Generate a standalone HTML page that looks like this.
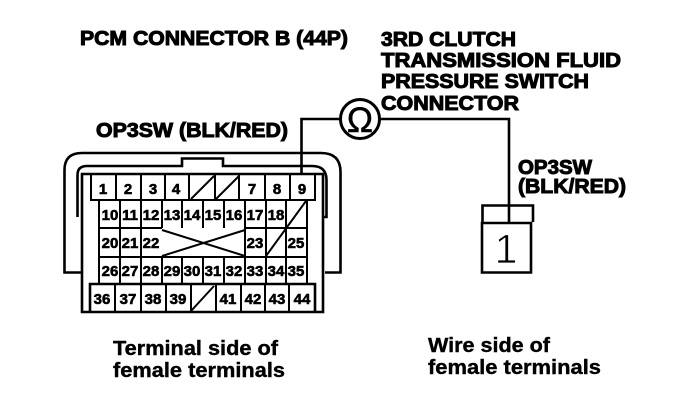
<!DOCTYPE html>
<html><head><meta charset="utf-8"><style>
html,body{margin:0;padding:0;background:#fff}
svg{display:block}
text{font-family:"Liberation Sans",sans-serif;fill:#000}
.h{font-size:20px;font-weight:bold;stroke:#000;stroke-width:1px}
.b{font-size:20px;font-weight:bold;stroke:#000;stroke-width:.4px}
.n text{font-size:15px;font-weight:bold;text-anchor:middle;stroke:#000;stroke-width:.6px}
.l{fill:none;stroke:#000;stroke-width:2.6}
.c{fill:none;stroke:#000;stroke-width:2}
</style></head><body>
<svg width="688" height="408" viewBox="0 0 688 408" xmlns="http://www.w3.org/2000/svg">
<rect width="688" height="408" fill="#fff"/>
<text class="h" x="80" y="45" textLength="268" lengthAdjust="spacingAndGlyphs">PCM CONNECTOR B (44P)</text>
<text class="h" x="381" y="46" textLength="135" lengthAdjust="spacingAndGlyphs">3RD CLUTCH</text>
<text class="h" x="381" y="67" textLength="240" lengthAdjust="spacingAndGlyphs">TRANSMISSION FLUID</text>
<text class="h" x="381" y="88" textLength="208" lengthAdjust="spacingAndGlyphs">PRESSURE SWITCH</text>
<text class="h" x="381" y="110" textLength="138" lengthAdjust="spacingAndGlyphs">CONNECTOR</text>
<text class="h" x="96" y="137" textLength="192" lengthAdjust="spacingAndGlyphs">OP3SW (BLK/RED)</text>
<text class="h" x="518" y="174" textLength="74" lengthAdjust="spacingAndGlyphs">OP3SW</text>
<text class="h" x="518" y="193" textLength="108" lengthAdjust="spacingAndGlyphs">(BLK/RED)</text>
<text class="b" x="113" y="355" textLength="165" lengthAdjust="spacingAndGlyphs">Terminal side of</text>
<text class="b" x="113" y="377" textLength="172" lengthAdjust="spacingAndGlyphs">female terminals</text>
<text class="b" x="428" y="352" textLength="122" lengthAdjust="spacingAndGlyphs">Wire side of</text>
<text class="b" x="428" y="374" textLength="173" lengthAdjust="spacingAndGlyphs">female terminals</text>

<!-- housing -->
<path class="l" d="M82 272.500H64.500V170Q64.500 153 82 153H321Q340.500 153 340.500 172V272.500H325"/>
<path class="l" d="M77.500 217V175Q77.500 166 87 166H182V158.500H223V166H312Q326.500 166 326.500 180V217H323"/>
<path class="l" d="M82 312V174H323V312Z"/>

<!-- grid -->
<path class="c" d="M91 175V200H315V175M116 175V200M141 175V200M165 175V200M189 175V200M215 175V200M239 175V200M265 175V200M290 175V200"/>
<path class="c" d="M99 200V284M307 200V284M120 200V284M141 200V284M162 228V200M182 200V228M203 200V228M224 200V228M245 200V284M266 200V284M286 200V228M286 228V284M162 257V284M182 257V284M203 257V284M224 257V284M99 228H162M245 228H307M99 257H307"/>
<path class="l" d="M90 312V284H315V312"/>
<path class="c" d="M115 284V312M141 284V312M166 284V312M191 284V312M216 284V312M241 284V312M265 284V312M289 284V312"/>
<!-- crossed-out cells -->
<path class="c" d="M191 199L214 176M216 199L239 176M191 311L214 286M266 256L306 201M162 230L245 256M162 256L245 230"/>

<g class="n">
<text x="103" y="194">1</text><text x="128" y="194">2</text><text x="153" y="194">3</text><text x="176" y="194">4</text><text x="252" y="194">7</text><text x="277" y="194">8</text><text x="302" y="194">9</text>
<text x="110" y="220">10</text><text x="130" y="220">11</text><text x="151" y="220">12</text><text x="172" y="220">13</text><text x="192" y="220">14</text><text x="213" y="220">15</text><text x="234" y="220">16</text><text x="255" y="220">17</text><text x="276" y="220">18</text>
<text x="110" y="248">20</text><text x="130" y="248">21</text><text x="151" y="248">22</text><text x="255" y="248">23</text><text x="296" y="248">25</text>
<text x="110" y="276">26</text><text x="130" y="276">27</text><text x="151" y="276">28</text><text x="172" y="276">29</text><text x="192" y="276">30</text><text x="213" y="276">31</text><text x="234" y="276">32</text><text x="255" y="276">33</text><text x="276" y="276">34</text><text x="296" y="276">35</text>
<text x="102" y="304">36</text><text x="128" y="304">37</text><text x="153" y="304">38</text><text x="178" y="304">39</text><text x="228" y="304">41</text><text x="253" y="304">42</text><text x="277" y="304">43</text><text x="302" y="304">44</text>
</g>

<!-- wiring -->
<path class="l" d="M341 119H301.500V175"/>
<circle cx="360" cy="119" r="19.500" fill="#fff" stroke="#000" stroke-width="3"/>
<text x="360" y="132" text-anchor="middle" style="font-size:35px;stroke:#000;stroke-width:.5px">Ω</text>
<path class="l" d="M380 119H509V222"/>

<!-- right connector -->
<path class="l" d="M482.500 222V205.500H533V222"/>
<path class="l" stroke-width="3" d="M482 223H531V272.500H482Z"/>
<text x="506" y="263" text-anchor="middle" style="font-size:41px;font-weight:normal;stroke:#fff;stroke-width:.8px">1</text>
</svg>
</body></html>
